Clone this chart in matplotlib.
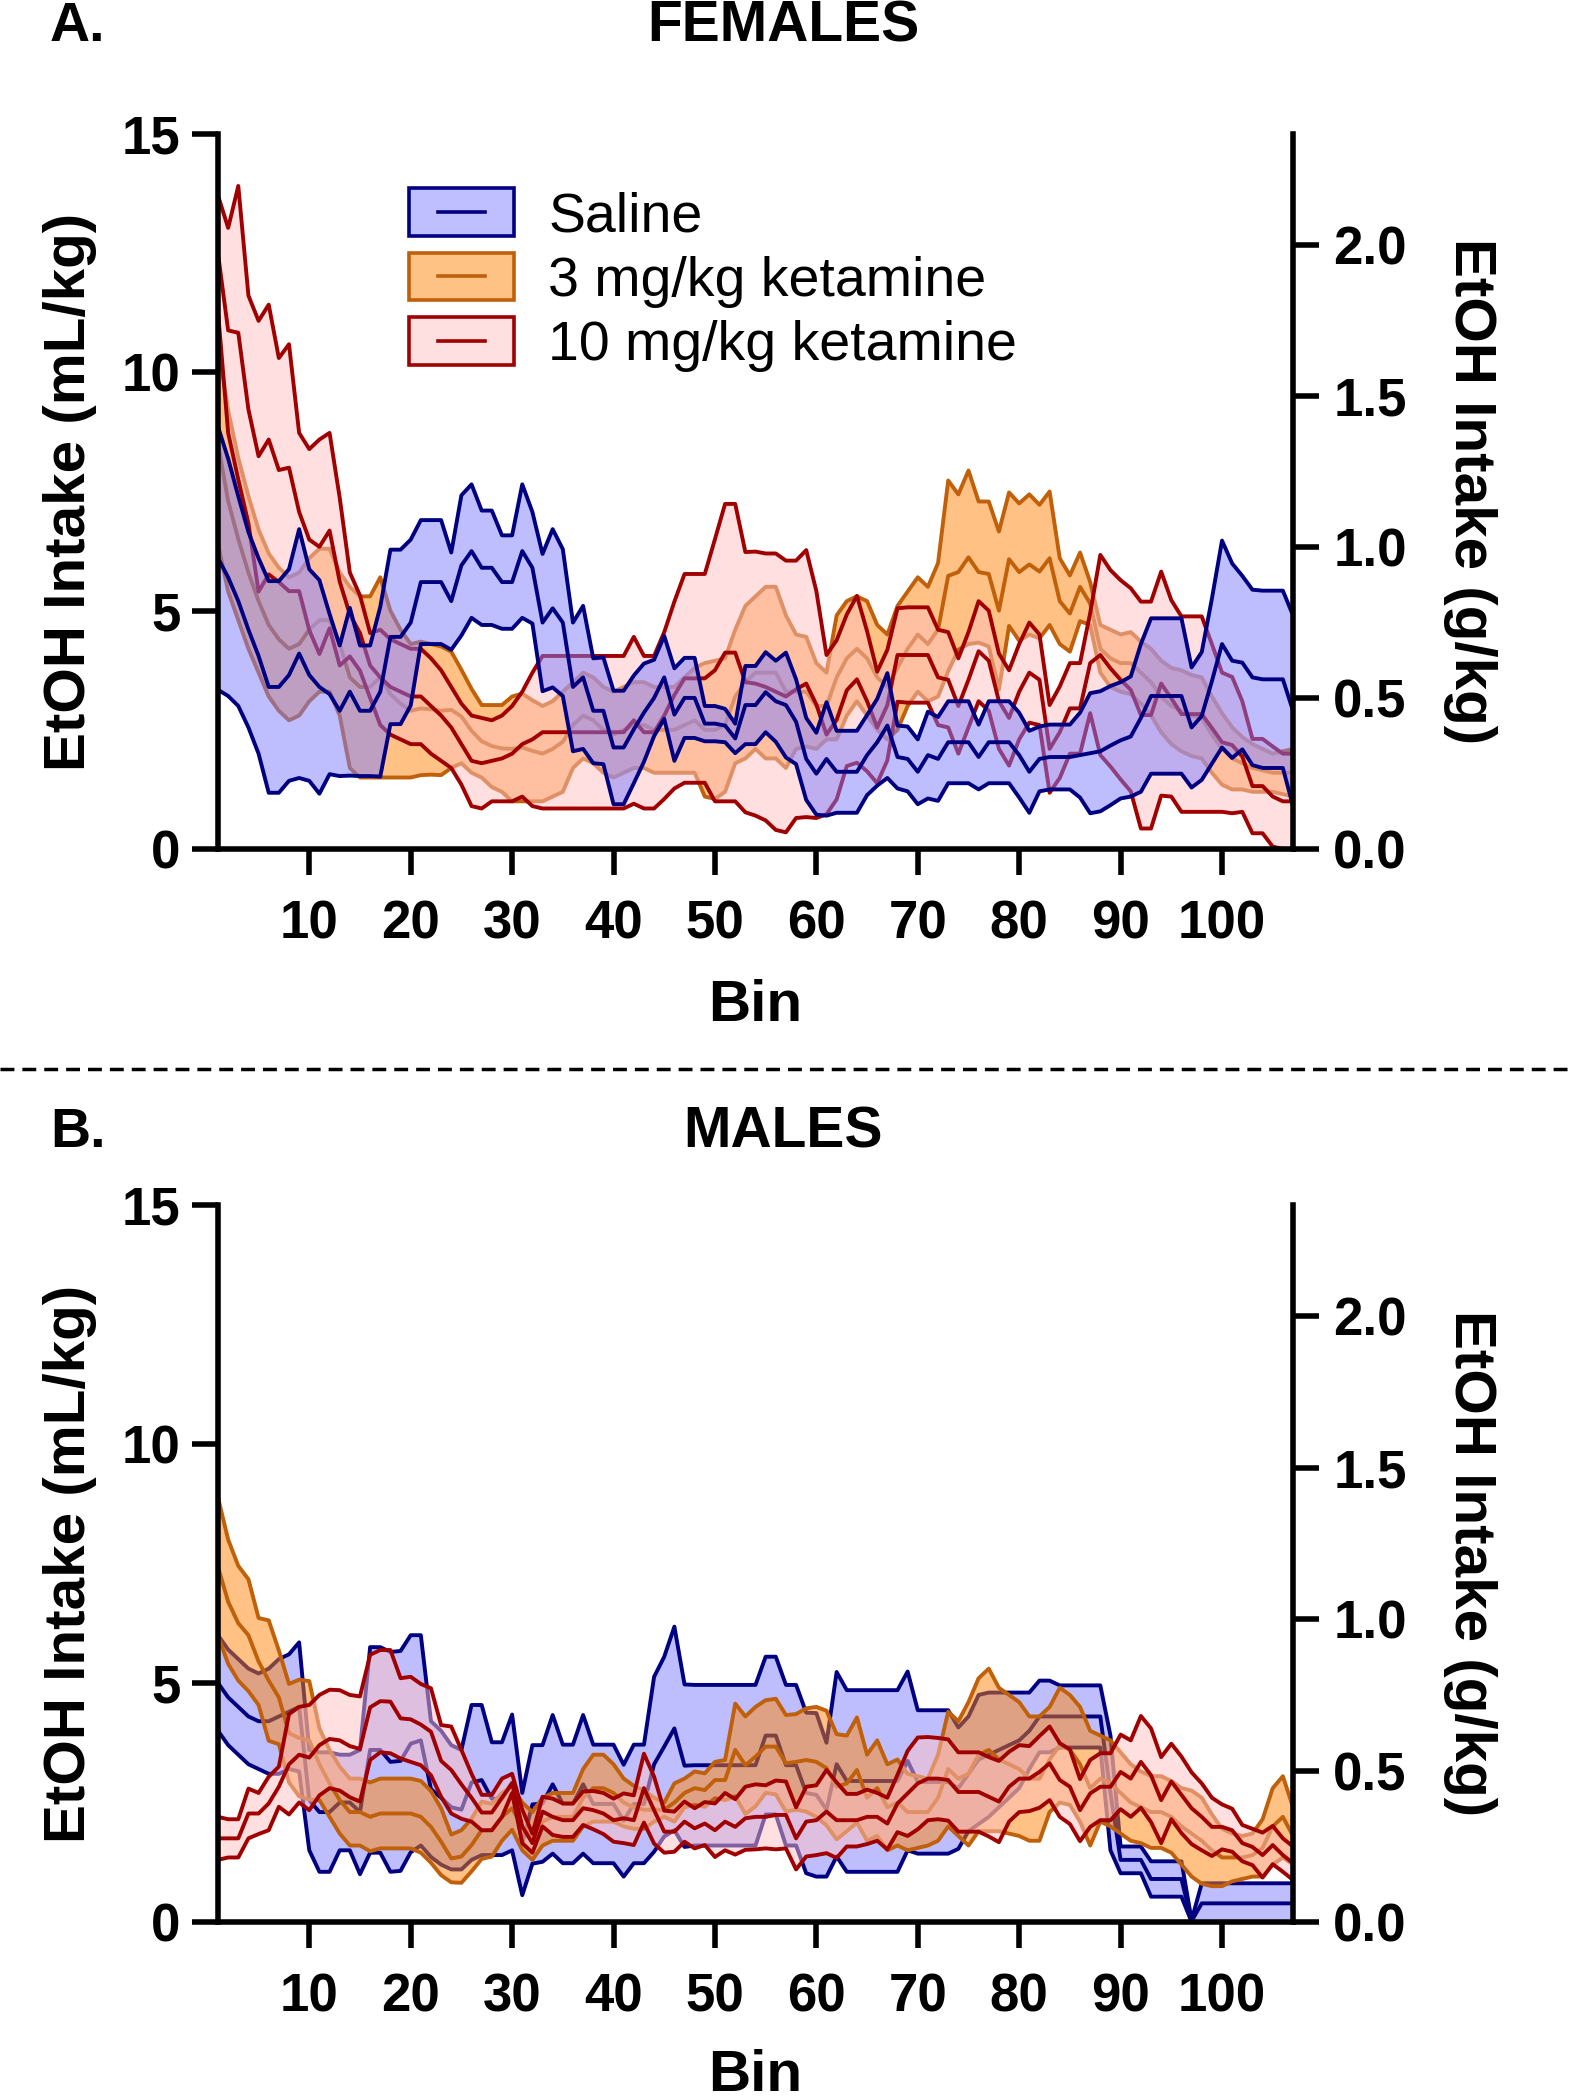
import numpy as np
import matplotlib
matplotlib.use('Agg')
import matplotlib.pyplot as plt
from matplotlib.patches import Patch, Rectangle
from matplotlib.lines import Line2D
from matplotlib.legend_handler import HandlerBase
from matplotlib.ticker import FormatStrFormatter

bins = np.arange(1, 108)

# ---- females ----
f_saline_mean = [6.1, 5.7, 5.2, 4.6, 4.05, 3.4, 3.4, 3.65, 4.1, 3.65, 3.4, 3.25, 2.9, 3.3, 2.9, 2.9, 3.3, 4.45,
                 4.45, 4.75, 5.6, 5.6, 5.6, 5.2, 5.95, 6.25, 5.9, 5.9, 5.6, 5.6, 6.25, 5.9, 4.75, 5.05, 4.75, 3.4,
                 3.6, 2.9, 2.9, 2.13, 2.13, 2.51, 2.86, 3.17, 3.6, 2.82, 3.17, 3.17, 2.63, 2.63, 2.59, 2.32, 3.02,
                 3.02, 3.29, 3.1, 3.02, 2.67, 1.89, 1.58, 1.89, 1.62, 1.62, 1.62, 1.97, 2.24, 2.59, 1.93, 1.89,
                 1.62, 1.97, 1.89, 2.24, 2.24, 2.24, 1.93, 2.24, 2.24, 2.24, 1.97, 1.62, 1.89, 1.93, 1.93, 1.93,
                 1.97, 2.01, 2.05, 2.17, 2.28, 2.36, 2.75, 3.21, 3.21, 3.21, 3.21, 2.55, 2.79, 3.52, 4.3, 3.95,
                 3.91, 3.6, 3.56, 3.56, 3.56, 2.9]
f_saline_sem = [2.76, 2.49, 2.2, 2.05, 2.05, 2.22, 2.22, 2.22, 2.61, 2.22, 2.24, 1.68, 1.37, 1.76, 1.37, 1.37, 1.78,
                1.83, 1.83, 1.74, 1.3, 1.3, 1.3, 1.02, 1.47, 1.4, 1.2, 1.2, 0.98, 0.98, 1.4, 1.17, 1.44, 1.66, 1.54,
                1.35, 1.5, 1.1, 1.12, 1.19, 1.19, 1.13, 1.03, 0.8, 0.87, 0.97, 0.84, 0.84, 0.37, 0.37, 0.35, 0.31,
                0.82, 0.82, 0.84, 0.85, 1.1, 0.89, 0.86, 0.86, 1.19, 0.86, 0.86, 0.86, 0.84, 0.91, 1.1, 0.66, 0.68,
                0.68, 0.91, 0.88, 0.86, 0.86, 0.86, 0.68, 0.86, 0.86, 0.86, 0.89, 0.86, 0.68, 0.68, 0.68, 0.68,
                0.89, 1.26, 1.26, 1.25, 1.22, 1.26, 1.55, 1.63, 1.63, 1.63, 1.63, 1.26, 1.34, 1.73, 2.17, 2.04,
                1.82, 1.84, 1.86, 1.86, 1.86, 2.0]

f_k3_mean = [8.5, 7.3, 6.5, 5.8, 5.2, 4.7, 4.4, 4.2, 4.3, 4.6, 4.8, 4.8, 4.3, 3.6, 3.4, 3.4, 3.6,
             3.25, 3.05, 2.9, 2.95, 2.93, 2.9, 2.92, 2.78, 2.48, 2.26, 2.16, 2.11, 2.1, 2.13, 2.06, 2.0, 2.1, 2.25,
             2.6, 2.8, 2.7, 2.5, 2.4, 2.5, 2.6, 2.6, 2.5, 2.5, 2.5, 2.6, 2.7,
             2.5, 2.5, 2.6, 3.2, 3.5, 3.7, 3.7, 3.7, 3.3, 3.3, 3.3, 3.0, 3.0,
             3.6, 4.0, 4.2, 4.0, 3.6, 3.4, 3.8, 4.2, 4.5, 4.3, 4.6,
             5.73, 5.81, 6.12, 5.81, 5.77, 5.0, 6.08, 5.81, 5.97, 5.82, 6.1, 5.2, 4.94, 5.5, 5.15,
             4.2, 4.0, 3.9, 3.9, 3.7, 3.5, 3.2, 3.0, 2.9, 2.8, 2.75, 2.4, 2.1, 1.9, 1.8, 1.7, 1.65, 1.6, 1.6, 1.6]
f_k3_sem = [2.1, 1.9, 1.7, 1.6, 1.5, 1.5, 1.5, 1.5, 1.5, 1.5, 1.5, 1.5, 1.5, 1.9, 1.9, 1.9, 2.1,
            1.75, 1.55, 1.4, 1.4, 1.37, 1.35, 1.22, 0.98, 0.88, 0.76, 0.86, 0.91, 1.1, 1.13, 1.06, 1.0, 1.0, 1.05,
            0.9, 0.9, 0.9, 0.9, 0.9, 0.9, 0.9, 0.9, 0.9, 0.9, 0.9, 1.0, 1.1,
            1.4, 1.45, 1.4, 1.4, 1.6, 1.6, 1.8, 1.8, 1.6, 1.2, 1.15, 0.9, 0.7,
            1.3, 1.2, 1.1, 1.2, 1.1, 1.1, 1.3, 1.2, 1.2, 1.2, 1.4,
            2.0, 1.63, 1.82, 1.48, 1.52, 1.66, 1.4, 1.44, 1.47, 1.4, 1.4, 0.9, 0.8, 0.72, 0.45,
            0.5, 0.6, 0.6, 0.65, 0.65, 0.7, 0.75, 0.8, 0.85, 0.85, 0.85, 0.8, 0.75, 0.65, 0.55, 0.5, 0.45, 0.4,
            0.45, 0.5]

f_k10_mean = [12.49, 10.88, 10.83, 9.22, 8.24, 8.59, 7.95, 8.0, 7.07, 6.49, 6.34, 6.68, 5.61, 4.92, 4.53, 3.85,
              3.6, 3.4, 3.3, 3.2, 3.2, 3.0, 2.8, 2.55, 2.2, 1.85, 1.8, 1.85, 1.9, 2.0, 2.2, 2.3, 2.45, 2.45, 2.45,
              2.45, 2.45, 2.45, 2.45, 2.45, 2.45, 2.7, 2.45, 2.45,
              2.8, 3.23, 3.58, 3.58, 3.58, 3.75, 4.12, 4.12, 3.5, 3.47, 3.4, 3.3, 3.2, 3.35, 3.47, 3.03, 2.4,
              2.71, 3.33, 3.56, 3.1, 2.55, 3.02, 4.07, 4.07, 4.07, 4.07,
              3.6, 3.55, 3.0, 3.55, 4.15, 3.95, 3.1, 2.75, 3.3, 3.7, 3.55, 2.1, 2.45, 2.95, 2.95, 3.9,
              4.07, 3.79, 3.55, 3.34, 2.81, 2.81, 3.47, 3.16, 2.83, 2.83, 2.83, 2.54, 2.24, 2.18, 1.94, 1.32,
              1.32, 1.1, 1.0, 1.0]
f_k10_sem = [1.22, 2.15, 3.08, 2.39, 2.84, 2.83, 2.35, 2.59, 1.66, 1.9, 2.25, 2.05, 1.76, 0.88, 0.79, 0.68,
             1.0, 1.0, 1.0, 1.0, 1.0, 1.0, 0.95, 0.85, 0.85, 0.95, 0.95, 0.85, 0.9, 1.0, 1.1, 1.4, 1.6, 1.6, 1.6,
             1.6, 1.6, 1.6, 1.6, 1.6, 1.6, 1.75, 1.6, 1.6,
             1.75, 1.96, 2.19, 2.19, 2.19, 2.75, 3.12, 3.12, 2.73, 2.77, 2.8, 2.9, 2.85, 2.7, 2.8, 2.38, 1.67,
             1.67, 1.59, 1.75, 1.47, 1.17, 1.16, 0.98, 1.0, 1.0, 1.0,
             1.0, 1.0, 1.0, 1.0, 1.05, 1.05, 1.0, 1.0, 1.0, 1.05, 0.95, 0.92, 0.96, 0.95, 0.95, 1.05,
             2.1, 2.06, 2.09, 2.13, 2.38, 2.38, 2.35, 2.06, 2.05, 2.05, 2.05, 1.76, 1.46, 1.43, 1.16, 0.99,
             0.99, 1.05, 1.0, 1.0]

# ---- males ----
m_saline_mean = [5.0, 4.7, 4.5, 4.3, 4.2, 4.2, 4.3, 4.4, 4.5,
                 2.55, 2.3, 2.3, 2.5, 2.5, 2.3, 3.6, 3.6, 3.35, 3.37, 3.73, 3.8,
                 2.78, 2.6, 2.4, 2.35, 2.92, 2.97, 2.58, 2.58, 2.92, 1.63, 2.46,
                 2.48, 2.88, 2.47, 2.47, 2.88, 2.47, 2.47, 2.47, 2.12, 2.47, 2.47, 3.3, 3.67, 4.05, 3.27,
                 3.28, 3.28, 3.28, 3.28, 3.28, 3.28, 3.28, 3.9, 3.9, 3.28, 3.28,
                 2.7, 2.66, 2.35, 3.3, 2.95, 2.95, 2.95, 2.95, 2.95, 2.95, 3.37, 2.93, 2.93, 2.93, 2.93,
                 2.8, 3.1, 3.4, 3.5, 3.6, 3.7, 3.8, 4.0, 4.3, 4.3, 4.3, 4.3, 4.3, 4.3, 4.3, 2.7,
                 1.3, 1.3, 1.3, 0.9, 0.9, 0.9, 0.9, 0.02,
                 0.39, 0.39, 0.39, 0.39, 0.39, 0.39, 0.39, 0.39, 0.39, 0.39]
m_saline_sem = [1.0, 1.0, 1.0, 1.0, 1.0, 1.1, 1.2, 1.2, 1.35,
                1.05, 1.25, 1.25, 1.0, 1.0, 1.3, 2.15, 2.15, 2.3, 2.3, 2.27, 2.2,
                1.42, 1.4, 1.3, 1.25, 1.62, 1.57, 1.18, 1.18, 1.42, 1.07, 1.24,
                1.22, 1.45, 1.24, 1.24, 1.45, 1.24, 1.24, 1.24, 1.17, 1.24, 1.24, 1.83, 1.88, 2.13, 1.7,
                1.68, 1.68, 1.68, 1.68, 1.68, 1.68, 1.68, 1.65, 1.65, 1.68, 1.68,
                1.68, 1.71, 1.4, 1.93, 1.9, 1.9, 1.9, 1.9, 1.9, 1.9, 1.87, 1.5, 1.5, 1.5, 1.5,
                1.27, 1.2, 1.35, 1.3, 1.2, 1.1, 1.0, 0.8, 0.75, 0.75, 0.65, 0.65, 0.65, 0.65, 0.65, 1.2,
                0.28, 0.28, 0.28, 0.37, 0.37, 0.37, 0.37, 0.02,
                0.42, 0.42, 0.42, 0.42, 0.42, 0.42, 0.42, 0.42, 0.42, 0.42]

m_k3_mean = [7.43, 6.7, 6.25, 6.0, 5.45, 5.05, 4.7, 3.95, 3.85, 3.8,
             3.3, 2.9, 2.55, 2.3, 2.3, 2.2, 2.27, 2.27, 2.27, 2.27,
             2.2, 1.99, 1.68, 1.33, 1.37, 1.61, 1.92, 1.92, 2.2, 2.38,
             2.0, 1.8, 2.1, 2.2, 2.2, 2.2, 2.6, 2.8, 2.8, 2.7,
             2.5, 2.4, 2.35, 2.35, 2.35, 2.5, 2.7, 2.8, 2.76, 2.97,
             2.97, 3.6, 3.28, 3.46, 3.67, 3.67, 3.32, 3.35, 3.39, 3.35,
             3.22, 2.83, 2.9, 3.18, 2.6, 2.8, 2.4, 2.5, 2.3, 2.3,
             2.3, 2.6, 3.2, 3.0, 3.1, 3.5, 3.6, 3.4, 3.3, 3.2,
             3.0, 3.0, 3.4, 3.7, 3.6, 3.3, 2.8, 3.0, 2.9, 2.7,
             2.5, 2.4, 2.3, 2.3, 2.2, 2.0, 1.85, 1.7, 1.5, 1.35,
             1.35, 1.35, 1.4, 1.55, 2.0, 2.2, 1.8]
m_k3_sem = [1.45, 1.3, 1.2, 1.17, 0.91, 1.26, 0.98, 1.03, 1.22, 1.24,
            0.75, 0.7, 0.7, 0.7, 0.7, 0.72, 0.73, 0.73, 0.73, 0.73,
            0.75, 0.75, 0.7, 0.5, 0.55, 0.55, 0.6, 0.55, 0.5, 0.45,
            0.5, 0.5, 0.5, 0.5, 0.5, 0.5, 0.6, 0.7, 0.7, 0.6,
            0.5, 0.45, 0.4, 0.25, 0.15, 0.4, 0.3, 0.35, 0.35, 0.38,
            0.42, 0.97, 1.02, 1.04, 0.97, 1.0, 1.01, 1.0, 1.08, 1.15,
            1.2, 1.1, 1.0, 1.1, 0.9, 1.0, 0.9, 0.9, 0.8, 0.75,
            0.7, 0.9, 1.2, 1.2, 1.5, 1.6, 1.7, 1.5, 1.45, 1.4,
            1.3, 1.3, 1.1, 1.2, 1.15, 1.2, 1.2, 0.9, 0.9, 0.85,
            0.8, 0.75, 0.75, 0.75, 0.75, 0.8, 0.9, 0.9, 0.75, 0.6,
            0.5, 0.45, 0.45, 0.6, 0.8, 0.85, 0.6]

m_k10_mean = [1.75, 1.75, 1.75, 2.27, 2.27, 2.48, 2.83, 3.3, 3.5, 3.44,
              3.7, 3.83, 3.8, 3.68, 3.62, 4.49, 4.62, 4.61, 4.26, 4.24,
              4.13, 3.98, 3.37, 3.18, 2.88, 2.6, 2.29, 2.29, 2.6, 2.9,
              2.0, 1.65, 2.31, 2.2, 2.13, 2.13, 2.38, 2.34, 2.27, 2.13,
              2.17, 2.13, 2.8, 2.34, 1.89, 1.89, 2.1, 1.96, 2.06, 1.92,
              2.1, 1.99, 2.17, 2.2, 2.2, 2.24, 2.24, 1.75, 2.1, 2.13,
              2.31, 2.13, 2.13, 2.13, 2.2, 2.2, 2.06, 2.48, 2.69, 2.9,
              3.0, 3.0, 2.97, 2.72, 2.72, 2.72, 2.62, 2.52, 2.83, 3.0,
              3.0, 3.14, 3.32, 2.97, 2.83, 2.34, 2.69, 2.83, 2.83, 3.14,
              3.0, 3.35, 3.07, 2.55, 2.94, 2.66, 2.38, 2.2, 1.99, 1.99,
              1.92, 1.65, 1.57, 1.4, 1.61, 1.4, 1.23]
m_k10_sem = [0.45, 0.4, 0.4, 0.52, 0.43, 0.56, 0.42, 1.05, 1.0, 1.1,
             1.05, 1.03, 1.05, 1.07, 1.1, 1.1, 1.07, 1.08, 0.84, 0.89,
             0.85, 0.91, 0.75, 0.91, 0.72, 0.5, 0.37, 0.37, 0.4, 0.2,
             0.35, 0.2, 0.31, 0.38, 0.35, 0.35, 0.35, 0.4, 0.43, 0.45,
             0.52, 0.52, 0.72, 0.7, 0.44, 0.42, 0.42, 0.42, 0.45, 0.56,
             0.6, 0.58, 0.66, 0.68, 0.66, 0.72, 0.7, 0.65, 0.73, 0.73,
             0.87, 0.79, 0.55, 0.55, 0.57, 0.5, 0.54, 0.6, 0.89, 0.96,
             0.87, 0.85, 0.85, 0.83, 0.83, 0.83, 0.83, 0.85, 0.73, 0.7,
             0.68, 0.75, 0.77, 0.77, 0.78, 0.65, 0.7, 0.7, 0.7, 0.78,
             0.8, 0.96, 0.98, 0.9, 0.79, 0.8, 0.75, 0.7, 0.61, 0.47,
             0.45, 0.38, 0.38, 0.47, 0.4, 0.35, 0.35]

labels = ['Saline', '3 mg/kg ketamine', '10 mg/kg ketamine']
line_colors = ['#000080', '#C0600A', '#A00000']
fill_colors = ['#7F7FFF', '#FF850A', '#FFC0C0']
legend_faces = ['#BFBFFF', '#FFC285', '#FFE0E0']
ML_TO_G = 0.1578

plt.rcParams['font.family'] = ['Liberation Sans', 'DejaVu Sans']
plt.rcParams['font.weight'] = 'bold'
plt.rcParams['axes.labelweight'] = 'bold'


class BandHandler(HandlerBase):
    def create_artists(self, legend, orig_handle, xdescent, ydescent, width, height, fontsize, trans):
        ec = orig_handle.get_edgecolor()
        rect = Rectangle((-xdescent, -ydescent), width, height, facecolor=orig_handle.get_facecolor(),
                         edgecolor=ec, lw=2.6, transform=trans)
        y = -ydescent + height / 2
        line = Line2D([-xdescent + 0.28 * width, -xdescent + 0.72 * width], [y, y], color=ec, lw=2.6,
                      transform=trans)
        return [rect, line]


def draw_band(ax, mean, sem, i, z):
    mean = np.array(mean)
    sem = np.array(sem)
    ax.fill_between(bins, mean - sem, mean + sem, color=fill_colors[i], alpha=0.5, lw=0, zorder=z)
    for y in (mean + sem, mean, mean - sem):
        ax.plot(bins, y, color=line_colors[i], lw=2.8, zorder=z + 0.05)


def setup_axes(ax, label_y):
    ax.set_xlim(1, 107)
    ax.set_ylim(0, 15)
    ax.set_xticks(range(10, 101, 10))
    ax.set_yticks([0, 5, 10, 15])
    for s in ('top', 'right'):
        ax.spines[s].set_visible(False)
    for s in ('left', 'bottom'):
        ax.spines[s].set_linewidth(4)
    ax.tick_params(length=19, width=4, labelsize=38)
    ax.tick_params(axis='x', pad=17)
    ax.tick_params(axis='y', pad=8)
    ax.set_xlabel('Bin', fontsize=42, va='center')
    ax.xaxis.set_label_coords(0.5, label_y)
    ax.set_ylabel('EtOH Intake (mL/kg)', fontsize=42, va='center')
    ax.yaxis.set_label_coords(-0.1377, 0.5)

    ax2 = ax.twinx()
    ax2.set_ylim(0, 15 * ML_TO_G)
    ax2.set_yticks([0, 0.5, 1.0, 1.5, 2.0])
    ax2.yaxis.set_major_formatter(FormatStrFormatter('%.1f'))
    for s in ('top', 'left', 'bottom'):
        ax2.spines[s].set_visible(False)
    ax2.spines['right'].set_linewidth(4)
    ax2.tick_params(length=19, width=4, labelsize=38, pad=10)
    ax2.set_ylabel('EtOH Intake (g/kg)', fontsize=42, rotation=-90, va='center', ha='center')
    ax2.yaxis.set_label_coords(1.1647, 0.5)
    return ax2


fig = plt.figure(figsize=(15.71, 21.0), dpi=100)
ax_f = fig.add_axes([0.13877, 0.59571, 0.68428, 0.34048])
ax_m = fig.add_axes([0.13877, 0.08476, 0.68428, 0.34143])

# females: ketamine bands under saline
draw_band(ax_f, f_k3_mean, f_k3_sem, 1, 1.0)
draw_band(ax_f, f_k10_mean, f_k10_sem, 2, 1.2)
draw_band(ax_f, f_saline_mean, f_saline_sem, 0, 1.4)

# males: saline at the bottom
draw_band(ax_m, m_saline_mean, m_saline_sem, 0, 1.0)
draw_band(ax_m, m_k3_mean, m_k3_sem, 1, 1.2)
draw_band(ax_m, m_k10_mean, m_k10_sem, 2, 1.4)

setup_axes(ax_f, -0.2196)
setup_axes(ax_m, -0.215)

handles = [Patch(facecolor=legend_faces[i], edgecolor=line_colors[i]) for i in range(3)]
leg = ax_f.legend(handles, labels, handler_map={Patch: BandHandler()}, loc='upper left',
                  bbox_to_anchor=(409 / 1571, 1 - 188 / 2100), bbox_transform=fig.transFigure,
                  frameon=False, borderpad=0, borderaxespad=0, handlelength=1.89, handleheight=0.95,
                  handletextpad=0.62, labelspacing=0.17, prop={'family': 'Liberation Sans',
                                                                'weight': 'normal', 'size': 40})

fig.text(50 / 1571, 1 - 27 / 2100, 'A.', fontsize=40, ha='left', va='center')
fig.text(0.4985, 1 - 27 / 2100, 'FEMALES', fontsize=41, ha='center', va='center')
fig.text(50 / 1571, 1 - 1133 / 2100, 'B.', fontsize=40, ha='left', va='center')
fig.text(0.4985, 1 - 1133 / 2100, 'MALES', fontsize=41, ha='center', va='center')

fig.add_artist(Line2D([0, 1], [1 - 1069 / 2100] * 2, transform=fig.transFigure, color='black',
                      lw=2.5, linestyle=(0, (4, 2.3))))

fig.savefig('out.png', dpi=100)
